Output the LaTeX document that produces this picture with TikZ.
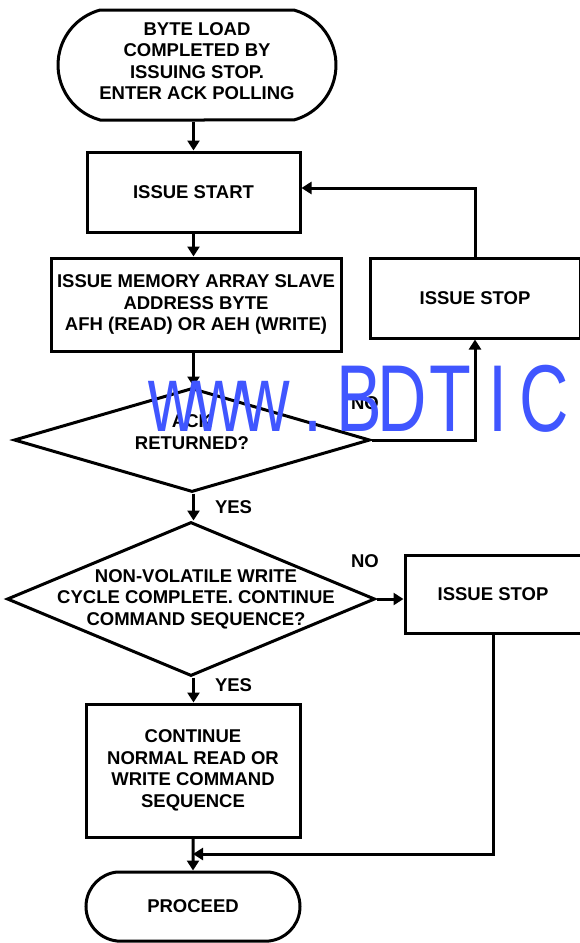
\documentclass[tikz,border=0pt]{standalone}
\usepackage{fontspec}
\setmainfont{Liberation Sans}
\usetikzlibrary{arrows.meta, positioning, shapes.geometric, shapes.misc}
\definecolor{wmblue}{RGB}{64,86,255}

\begin{document}
\begin{tikzpicture}[
  x=1pt, y=-1pt,
  every node/.style={font=\fontsize{18.5}{21.5}\selectfont\bfseries, align=center},
  terminal/.style={rounded rectangle, rounded rectangle arc length=150, draw, line width=3pt, inner xsep=-24pt, minimum width=230pt, minimum height=110pt},
  process/.style={rectangle, draw, line width=3pt, minimum width=213pt, minimum height=80pt},
  decision/.style={diamond, draw, line width=3pt, inner sep=0pt},
  arrow/.style={-{Triangle[length=10pt, width=12pt]}, line width=3pt},
  tag/.style={inner sep=0pt},
  wmark/.style={font=\fontsize{95}{95}\selectfont, text=wmblue, anchor=base, inner sep=0pt}
]
\useasboundingbox (0,0) rectangle (580,943);
\clip (0,0) rectangle (580,943);

% Nodes (top to bottom)
\node[terminal] (load) at (197,65) {BYTE LOAD\\COMPLETED BY\\ISSUING STOP.\\ENTER ACK POLLING\\[-13.5pt]\mbox{}};
\node[process] (issue) at (193.5,192) {ISSUE START};
\node[process, minimum width=290pt, minimum height=93pt] (slave) at (196,304.5) {ISSUE MEMORY ARRAY SLAVE\\ADDRESS BYTE\\AFH (READ) OR AEH (WRITE)};
\node[decision, minimum width=356pt, minimum height=104pt] (ack) at (192,440) {};
\node (acktext) at ([yshift=8pt]ack.center) {ACK\\RETURNED?};
\node[decision, minimum width=368pt, minimum height=154pt] (nvw) at (191,599) {};
\node (nvwtext) at ([xshift=5pt]nvw.center) {NON-VOLATILE WRITE\\CYCLE COMPLETE. CONTINUE\\COMMAND SEQUENCE?};
\node[process, minimum width=214pt, minimum height=133pt] (cont) at (193,770.5) {CONTINUE\\NORMAL READ OR\\WRITE COMMAND\\SEQUENCE};
\node[terminal, minimum width=214pt, minimum height=69pt, inner xsep=0pt, rounded rectangle arc length=168] (proceed) at (193,906.5) {PROCEED};

% Side branches
\node[process, minimum width=210pt] (stop1) at (475,298) {ISSUE STOP};
\node[process, minimum width=176pt, minimum height=78pt] (stop2) at (493,594) {ISSUE STOP};
\coordinate (join) at (193,854);

\node[tag] (no1) at (365,403) {NO};
\node[tag] (no2) at (365,561) {NO};

% Arrows
\draw[arrow] (issue.north |- load.south) -- (issue.north);
\draw[arrow] (issue.south) -- (issue.south |- slave.north);
\draw[arrow] (issue.south |- slave.south) -- (issue.south |- ack.north);
\draw[arrow] (issue.south |- ack.south) -- node[tag, right=20pt] (yes1) {YES} (issue.south |- nvw.north);
\draw[arrow] (issue.south |- nvw.south) -- node[tag, right=20pt, pos=0.3] (yes2) {YES} (issue.south |- cont.north);
\draw[arrow] (cont) -- (proceed);

\draw[arrow] (ack.east) -| (stop1.south);
\draw[arrow] (stop1.north) |- ([yshift=4pt]issue.east);
\draw[arrow] (nvw.east) -- (stop2.west |- nvw.east);
\draw[arrow] (stop2.south) |- (join);

% Watermark
\node[wmark] (wm1) at (173,431) {\scalebox{0.72}[1]{w}};
\node[wmark] (wm2) at (219,431) {\scalebox{0.72}[1]{w}};
\node[wmark] (wm3) at (265,431) {\scalebox{0.72}[1]{w}};
\node[wmark] (wm4) at (313,431) {\scalebox{0.72}[1]{.}};
\node[wmark] (wm5) at (359,431) {\scalebox{0.72}[1]{B}};
\node[wmark] (wm6) at (402,431) {\scalebox{0.72}[1]{D}};
\node[wmark] (wm7) at (450,431) {\scalebox{0.72}[1]{T}};
\node[wmark] (wm8) at (498,431) {\scalebox{0.72}[1]{I}};
\node[wmark] (wm9) at (544,431) {\scalebox{0.72}[1]{C}};

\end{tikzpicture}
\end{document}
